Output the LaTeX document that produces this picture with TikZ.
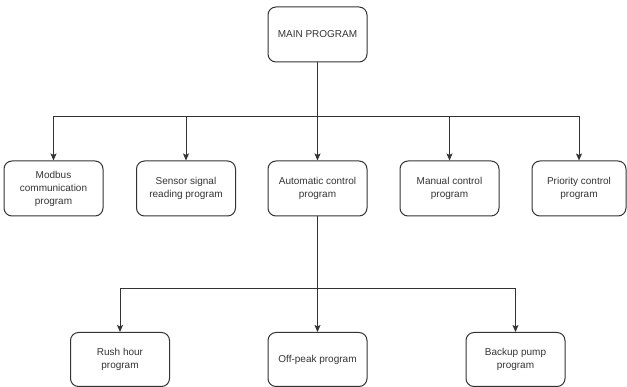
\documentclass[tikz,border=0pt]{standalone}
\usepackage{fontspec}
\setmainfont{Liberation Sans}
\usetikzlibrary{arrows.meta}
\definecolor{linegray}{HTML}{333333}
\tikzset{prog/.style={draw=linegray,rounded corners=8pt,line width=1pt,minimum width=99pt,minimum height=55pt,inner sep=0pt,align=center,text=linegray,font=\fontsize{10}{13}\selectfont},
         link/.style={linegray,line width=1pt,-{Stealth[length=7pt,width=6pt,inset=1.5pt]}}}

\begin{document}
\begin{tikzpicture}[x=1pt,y=-1pt]
            \useasboundingbox (0,0) rectangle (627,387);
            \node (main)    [prog] at (317.5,34.5)                   {MAIN PROGRAM};
            \node (modbus)  [prog] at (53.5,188.5)                   {Modbus\\communication\\program};
            \node (sensor)  [prog] at (186,188.5)                    {Sensor signal\\reading program};
            \node (auto)    [prog] at (317.5,188.5)                  {Automatic control\\program};
            \node (manual)  [prog] at (449.5,188.5)                  {Manual control\\program};
            \node (prio)    [prog] [minimum width=94pt] at (579,188.5) {Priority control\\program};
            \node (rush)    [prog] [minimum height=54pt] at (120,359.5)   {Rush hour\\program};
            \node (offpeak) [prog] [minimum height=54pt] at (317.5,359.5) {Off-peak program};
            \node (backup)  [prog] [minimum height=54pt] at (515.5,359.5) {Backup pump\\program};

            \draw [link] (main.south) -- ++(0,54) -| (modbus);
            \draw [link] (main.south) -- ++(0,54) -| (sensor);
            \draw [link] (main.south) -- (auto);
            \draw [link] (main.south) -- ++(0,54) -| (manual);
            \draw [link] (main.south) -- ++(0,54) -| (prio);

            \draw [link] (auto.south) -- ++(0,72) -| (rush);
            \draw [link] (auto.south) -- (offpeak);
            \draw [link] (auto.south) -- ++(0,72) -| (backup);
        \end{tikzpicture}
\end{document}
